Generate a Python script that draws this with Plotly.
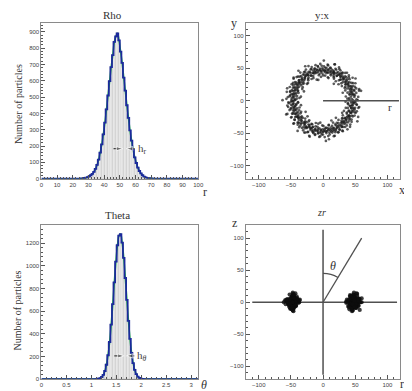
import numpy as np
import plotly.graph_objects as go

W, H = 412, 391

# ---------------- data ----------------
# Rho histogram: 100 bins of width 1 on [0, 100); non-zero bins start at 25
rho_nbins = 100
rho_bin_width = 1.0
rho_first_bin = 25
rho_counts = [1, 2, 4, 6, 9, 14, 21, 29, 42, 60, 84, 117, 160, 210, 272, 343, 425, 510,
              598, 684, 757, 838, 872, 891, 848, 779, 710, 620, 540, 450, 373, 296, 233,
              176, 131, 96, 68, 47, 32, 21, 13, 8, 5, 3, 2, 1]

# Theta histogram: 100 bins of width pi/100 on [0, pi); non-zero bins start at 35
theta_nbins = 100
theta_bin_width = np.pi / 100
theta_first_bin = 35
theta_counts = [2, 4, 9, 19, 38, 72, 127, 211, 328, 481, 662, 854, 1038, 1182, 1267,
                1281, 1205, 1070, 893, 700, 515, 356, 231, 142, 81, 44, 22, 11, 5, 2]

# y:x scatter, particles given as (rho, phi[deg])
ring_rho = [
    47, 41, 52, 45, 38, 55, 49, 44, 50, 36, 47, 53, 43, 58, 46, 40, 51, 48, 33, 54,
    45, 49, 42, 57, 47, 39, 52, 46, 61, 44, 48, 37, 53, 45, 50, 42, 56, 47, 35, 51,
    48, 43, 55, 40, 46, 52, 49, 31, 47, 54, 44, 50, 38, 57, 46, 42, 53, 48, 45, 59,
    41, 50, 47, 36, 52, 44, 49, 55, 43, 47, 39, 51, 46, 62, 48, 42, 54, 45, 37, 50,
    47, 53, 40, 48, 56, 44, 46, 51, 34, 49, 45, 52, 41, 58, 47, 43, 50, 38, 55, 46,
    49, 42, 53, 47, 39, 51, 45, 60, 44, 48, 36, 52, 46, 43, 55, 49, 41, 47, 57, 45,
    50, 38, 48, 54, 43, 46, 52, 33, 49, 45, 56, 42, 47, 51, 40, 53, 46, 58, 44, 48,
    41, 52, 47, 37, 55, 45, 49, 43, 63, 47, 50, 39, 53, 46, 42, 56, 48, 44, 35, 51,
    46, 54, 42, 49, 47, 59, 40, 52, 45, 48, 38, 55, 44, 50, 47, 32, 53, 46, 43, 57,
    48, 41, 51, 45, 54, 39, 47, 52, 44, 61, 46, 42, 50, 37, 55, 48, 43, 49, 56, 45,
    40, 53, 47, 46, 58, 43, 50, 36, 52, 45, 48, 54, 41, 47, 44, 51, 34, 49, 55, 46,
    52, 44, 48, 39, 56, 46, 42, 50, 47, 60, 43, 53, 45, 38, 49, 51, 46, 57, 41, 48,
    45, 50, 37, 54, 47, 43, 52, 48, 40, 55, 46, 49, 33, 51, 44, 58, 47, 42, 53, 45,
    49, 41, 56, 46, 44, 51, 38, 48, 53, 45, 62, 47, 42, 50, 36, 54, 46, 48, 43, 52,
    47, 55, 40, 49, 45, 51, 43, 57, 46, 39, 52, 48, 44, 35, 50, 47, 54, 41, 46, 59,
    44, 50, 47, 39, 53, 46, 42, 56, 48, 45, 51, 37, 49, 54, 43, 47, 60, 41, 52, 46,
    48, 35, 50, 45, 55, 43, 47, 51, 40, 58, 46, 49, 44, 53, 38, 47, 50, 42, 56, 45,
    51, 46, 41, 54, 48, 33, 52, 45, 49, 57, 43, 47, 39, 50, 46, 55, 42, 48, 62, 44,
    47, 52, 38, 49, 45, 56, 43, 50, 47, 36, 53, 46, 41, 51, 48, 59, 44, 49, 40, 54,
    46, 43, 57, 48, 51, 39, 47, 53, 45, 42, 55, 49, 34, 50, 46, 52, 44, 58, 41, 47,
    53, 45, 48, 40, 56, 47, 43, 51, 49, 61, 44, 46, 38, 52, 48, 45, 55, 42, 50, 47,
    39, 54, 46, 49, 44, 57, 41, 48, 52, 45, 35, 50, 47, 53, 43, 49, 59, 46, 42, 51,
    48, 44, 55, 37, 50, 46, 52, 42, 47, 58, 45, 49, 40, 54, 47, 43, 51, 36, 56, 46,
    50, 41, 47, 53, 45, 48, 60, 43, 49, 38, 52, 46, 55, 44, 47, 51, 33, 49, 45, 54,
    42, 48, 57, 46, 50, 39, 53, 47, 44, 51, 56, 45, 48, 37, 52, 46, 43, 59, 49, 47,
    45, 52, 40, 48, 55, 44, 47, 50, 36, 53, 46, 49, 42, 57, 47, 45, 51, 39, 54, 48,
    46, 58, 43, 50, 47, 41, 54, 45, 49, 52, 38, 48, 46, 55, 44, 51, 47, 61, 42, 49]
ring_phi = [
    0.3, 1.8, 2.6, 3.1, 4.9, 6.2, 7.0, 8.4, 9.7, 10.5, 11.9, 13.2, 13.8, 15.6, 16.9, 18.1, 19.4, 20.2, 22.0, 23.3,
    24.5, 25.1, 26.8, 28.3, 29.0, 30.6, 31.9, 32.7, 34.2, 35.5, 36.1, 37.8, 39.0, 40.4, 41.2, 42.9, 44.3, 45.0, 46.6, 47.5,
    48.8, 49.6, 51.3, 52.0, 53.7, 54.9, 56.2, 57.4, 58.1, 59.8, 61.0, 62.3, 63.5, 64.2, 65.9, 67.1, 68.6, 69.3, 70.7, 71.8,
    72.9, 74.4, 75.2, 76.5, 77.8, 79.1, 80.3, 81.7, 82.4, 84.0, 85.3, 86.1, 87.6, 88.9, 90.2, 91.5, 92.3, 93.9, 95.0, 95.8,
    97.1, 98.6, 99.4, 100.8, 102.0, 103.3, 104.7, 105.2, 106.9, 108.1, 109.5, 110.2, 111.8, 113.0, 114.4, 115.1, 116.7, 118.0, 118.9, 120.3,
    121.6, 122.4, 123.9, 125.2, 126.0, 127.5, 128.8, 129.6, 131.1, 132.3, 133.7, 134.5, 136.0, 137.2, 138.4, 139.9, 140.6, 142.1, 143.4, 144.2,
    145.7, 146.5, 148.0, 149.3, 150.1, 151.8, 152.6, 154.0, 155.3, 156.2, 157.7, 158.9, 160.1, 161.4, 162.2, 163.8, 165.0, 166.3, 167.1, 168.5,
    169.8, 170.6, 172.2, 173.4, 174.1, 175.7, 177.0, 178.3, 179.1, 180.6, 181.9, 183.2, 184.0, 185.5, 186.8, 187.6, 189.1, 190.4, 191.2, 192.7,
    193.9, 195.3, 196.1, 197.6, 198.8, 200.0, 201.5, 202.3, 203.9, 205.1, 206.4, 207.2, 208.7, 210.0, 211.3, 212.1, 213.8, 215.0, 216.2, 217.5,
    218.3, 219.8, 221.1, 222.4, 223.2, 224.7, 226.0, 227.3, 228.1, 229.6, 230.9, 232.2, 233.0, 234.5, 235.8, 237.1, 238.4, 239.2, 240.8, 242.0,
    243.3, 244.1, 245.6, 246.9, 248.2, 249.0, 250.5, 251.8, 253.1, 254.3, 255.0, 256.6, 257.9, 259.2, 260.0, 261.5, 262.8, 264.1, 265.3, 266.2,
    267.7, 268.9, 270.2, 271.0, 272.6, 273.9, 275.2, 276.0, 277.5, 278.8, 280.1, 281.3, 282.2, 283.7, 285.0, 286.3, 287.1, 288.6, 289.9, 291.2,
    292.0, 293.5, 294.8, 296.1, 297.3, 298.2, 299.7, 301.0, 302.3, 303.1, 304.6, 305.9, 307.2, 308.0, 309.5, 310.8, 312.1, 313.3, 314.2, 315.7,
    317.0, 318.3, 319.1, 320.6, 321.9, 323.2, 324.0, 325.5, 326.8, 328.1, 329.3, 330.2, 331.7, 333.0, 334.3, 335.1, 336.6, 337.9, 339.2, 340.0,
    341.5, 342.8, 344.1, 345.3, 346.2, 347.7, 349.0, 350.3, 351.1, 352.6, 353.9, 355.2, 356.0, 357.5, 358.8, 359.4, 0.9, 5.6, 12.4, 17.7,
    359.1, 357.4, 356.2, 354.5, 353.3, 351.6, 350.0, 348.7, 347.1, 345.8, 344.2, 342.6, 341.3, 339.9, 338.2, 336.8, 335.5, 333.9, 332.4, 331.0,
    329.6, 328.1, 326.5, 325.2, 323.8, 322.1, 320.7, 319.4, 317.8, 316.3, 314.9, 313.5, 311.8, 310.4, 309.1, 307.6, 306.0, 304.7, 303.2, 301.8,
    300.3, 298.9, 297.4, 295.8, 294.5, 293.1, 291.5, 290.2, 288.7, 287.1, 285.8, 284.3, 282.9, 281.4, 279.8, 278.5, 277.0, 275.6, 274.1, 272.7,
    271.2, 269.8, 268.3, 266.9, 265.4, 263.9, 262.5, 261.0, 259.6, 258.1, 256.7, 255.2, 253.8, 252.3, 250.9, 249.4, 248.0, 246.5, 245.1, 243.6,
    242.2, 240.7, 239.3, 237.8, 236.4, 234.9, 233.5, 232.0, 230.6, 229.1, 227.7, 226.2, 224.8, 223.3, 221.9, 220.4, 219.0, 217.5, 216.1, 214.6,
    213.2, 211.7, 210.3, 208.8, 207.4, 205.9, 204.5, 203.0, 201.6, 200.1, 198.7, 197.2, 195.8, 194.3, 192.9, 191.4, 190.0, 188.5, 187.1, 185.6,
    184.2, 182.7, 181.3, 179.8, 178.4, 176.9, 175.5, 174.0, 172.6, 171.1, 169.7, 168.2, 166.8, 165.3, 163.9, 162.4, 161.0, 159.5, 158.1, 156.6,
    155.2, 153.7, 152.3, 150.8, 149.4, 147.9, 146.5, 145.0, 143.6, 142.1, 140.7, 139.2, 137.8, 136.3, 134.9, 133.4, 132.0, 130.5, 129.1, 127.6,
    126.2, 124.7, 123.3, 121.8, 120.4, 118.9, 117.5, 116.0, 114.6, 113.1, 111.7, 110.2, 108.8, 107.3, 105.9, 104.4, 103.0, 101.5, 100.1, 98.6,
    97.2, 95.7, 94.3, 92.8, 91.4, 89.9, 88.5, 87.0, 85.6, 84.1, 82.7, 81.2, 79.8, 78.3, 76.9, 75.4, 74.0, 72.5, 71.1, 69.6,
    68.2, 66.7, 65.3, 63.8, 62.4, 60.9, 59.5, 58.0, 56.6, 55.1, 53.7, 52.2, 50.8, 49.3, 47.9, 46.4, 45.0, 43.5, 42.1, 40.6,
    39.2, 37.7, 36.3, 34.8, 33.4, 31.9, 30.5, 29.0, 27.6, 26.1, 24.7, 23.2, 21.8, 20.3, 18.9, 17.4, 16.0, 14.5, 13.1, 11.6]

# z:r scatter (r signed)
blob_left_r = [-47, -52, -44, -49, -41, -55, -46, -50, -43, -48, -53, -45, -39, -51, -47, -57, -44, -49, -42, -46,
               -54, -48, -45, -50, -37, -47, -52, -43, -49, -46, -56, -44, -48, -51, -40, -47, -53, -45, -49, -42,
               -47, -50, -44, -58, -46, -48, -52, -41, -47, -45, -54, -49, -43, -47, -51, -38, -48, -46, -53, -44,
               -50, -47, -42, -55, -45, -49, -48, -36, -51, -46, -47, -43, -52, -49, -45, -59, -47, -44, -50, -48,
               -45, -51, -48, -42, -54, -47, -50, -44, -56, -46, -49, -39, -53, -47, -43, -51, -48, -61, -45, -50,
               -46, -52, -41, -48, -44, -55, -47, -49, -37, -52, -46, -50, -43, -57, -48, -45, -51, -40, -49, -47]
blob_left_z = [3, -4, 6, -1, 0, 5, -8, 1, -3, 9, -5, 4, 1, -10, 0, 3, -4, 8, -6, 1,
               -1, 5, -9, 3, 0, -3, 12, -5, 4, -1, 1, -6, 6, -4, 3, -13, 0, 8, -3, 5,
               -8, 4, -1, -3, 10, -5, 1, 6, -4, 0, -3, 5, 14, -6, 3, -1, 8, -9, 4, 0,
               -4, 1, -5, 3, 6, -10, 0, 4, -3, 9, -1, 5, -8, 1, -4, 3, 15, -6, 4, -1,
               7, -2, -9, 4, 1, -12, 6, -5, 2, 10, -7, 3, -1, 13, -4, 5, -11, 0, 8, -6,
               -14, 2, 9, -3, 6, -1, 11, -8, 3, -5, 7, -10, 1, 4, -7, 12, -2, 6, -9, 0]
blob_right_r = [48, 43, 51, 46, 53, 40, 47, 50, 44, 56, 45, 49, 42, 52, 47, 38, 48, 54, 45, 50,
                43, 47, 57, 46, 49, 41, 52, 48, 44, 51, 47, 36, 53, 46, 49, 45, 58, 43, 48, 50,
                47, 42, 55, 46, 49, 44, 51, 39, 47, 53, 45, 48, 50, 43, 60, 47, 46, 52, 44, 49,
                41, 48, 54, 46, 47, 51, 45, 37, 50, 48, 43, 52, 47, 45, 55, 49, 46, 42, 48, 51,
                46, 52, 44, 49, 55, 41, 48, 51, 45, 58, 47, 43, 50, 39, 53, 46, 49, 56, 44, 48,
                51, 42, 47, 54, 45, 60, 48, 43, 50, 46, 36, 52, 47, 45, 57, 49, 41, 48, 53, 46]
blob_right_z = [-1, 4, -5, 3, 0, -8, 6, -3, 1, 5, -4, 9, -1, -6, 3, 0, 10, -4, 4, -9,
                1, -3, 5, -12, 0, 3, -5, 8, -1, 4, -6, 1, 13, -3, 6, -4, 0, 5, -8, 3,
                -1, 9, -5, 1, 4, -10, 0, 3, -3, 6, -14, 1, -4, 5, 0, 8, -6, 3, -1, 4,
                -5, 12, 0, -3, 6, -8, 1, 4, -4, -1, 5, -9, 3, 0, -6, 8, 1, -3, 15, -5,
                -7, 2, 10, -4, 6, -11, 1, -8, 4, 0, 12, -3, 7, -6, 2, -13, 5, 1, -9, 8,
                -2, 11, -5, 3, -10, 6, 0, 9, -7, 4, -1, 14, -4, 7, -12, 2, 5, -6, 10, -3]

# guide lines (data coordinates)
r_guide_x = [0, 118]
r_guide_y = [0, 0]
zr_haxis_x = [-110, 115]
zr_vaxis_z = [-113, 113]
zr_theta_line_r = [0, 60]
zr_theta_line_z = [0, 100]

# width-marker arrows: (tail, tip, height)
rho_arrows = [(46.0, 52.0, 184), (59.5, 54.0, 184)]
theta_arrows = [(1.46, 1.66, 205), (1.86, 1.70, 205)]

# ---------------- build ----------------
def full_counts(nbins, first, vals):
    c = np.zeros(nbins)
    c[first:first + len(vals)] = vals
    return c

rho_c = full_counts(rho_nbins, rho_first_bin, rho_counts)
rho_edges = np.arange(rho_nbins + 1) * rho_bin_width
rho_cent = rho_edges[:-1] + rho_bin_width / 2

th_c = full_counts(theta_nbins, theta_first_bin, theta_counts)
th_edges = np.arange(theta_nbins + 1) * theta_bin_width
th_cent = th_edges[:-1] + theta_bin_width / 2

ring_x = np.array(ring_rho) * np.cos(np.deg2rad(ring_phi))
ring_y = np.array(ring_rho) * np.sin(np.deg2rad(ring_phi))

BLUE = '#1c2a9c'
GREEN = '#22b04a'
BARLINE = '#bcbcbc'
FRAME = '#8a8a8a'
TXT = '#333333'
GUIDE = '#505050'
SERIF = 'Liberation Serif'

fig = go.Figure()

def hist(cent, edges, counts, w, xa, ya):
    fig.add_trace(go.Bar(x=cent, y=counts, width=w, marker=dict(color='#ffffff', line=dict(color=BARLINE, width=0.6)),
                         xaxis=xa, yaxis=ya, hoverinfo='skip'))
    fig.add_trace(go.Scatter(x=cent, y=counts, mode='lines', line=dict(color=GREEN, width=1.6, shape='spline'),
                             xaxis=xa, yaxis=ya, hoverinfo='skip'))
    fig.add_trace(go.Scatter(x=np.append(edges[:-1], edges[-1]), y=np.append(counts, counts[-1]), mode='lines',
                             line=dict(color=BLUE, width=1.8, shape='hv'), xaxis=xa, yaxis=ya, hoverinfo='skip'))

def arrows(lst, xa, ya):
    for tail, tip, yv in lst:
        fig.add_trace(go.Scatter(x=[tail, tip], y=[yv, yv], mode='lines+markers',
                                 line=dict(color='#444444', width=1.3),
                                 marker=dict(symbol='arrow', angleref='previous', size=[0, 7], color='#444444'),
                                 xaxis=xa, yaxis=ya, hoverinfo='skip'))

hist(rho_cent, rho_edges, rho_c, rho_bin_width, 'x', 'y')
hist(th_cent, th_edges, th_c, theta_bin_width, 'x3', 'y3')
arrows(rho_arrows, 'x', 'y')
arrows(theta_arrows, 'x3', 'y3')

# y:x
fig.add_trace(go.Scatter(x=ring_x, y=ring_y, mode='markers', marker=dict(color='#151515', size=2.7, opacity=0.7),
                         xaxis='x2', yaxis='y2', hoverinfo='skip'))
fig.add_trace(go.Scatter(x=r_guide_x, y=r_guide_y, mode='lines', line=dict(color=GUIDE, width=1.6),
                         xaxis='x2', yaxis='y2', hoverinfo='skip'))

# z:r
fig.add_trace(go.Scatter(x=zr_haxis_x, y=[0, 0], mode='lines', line=dict(color=GUIDE, width=1.5),
                         xaxis='x4', yaxis='y4', hoverinfo='skip'))
fig.add_trace(go.Scatter(x=[0, 0], y=zr_vaxis_z, mode='lines', line=dict(color=GUIDE, width=1.5),
                         xaxis='x4', yaxis='y4', hoverinfo='skip'))
fig.add_trace(go.Scatter(x=zr_theta_line_r, y=zr_theta_line_z, mode='lines', line=dict(color=GUIDE, width=1.3),
                         xaxis='x4', yaxis='y4', hoverinfo='skip'))
fig.add_trace(go.Scatter(x=blob_left_r + blob_right_r, y=blob_left_z + blob_right_z, mode='markers',
                         marker=dict(color='#0d0d0d', size=4.2, opacity=0.8),
                         xaxis='x4', yaxis='y4', hoverinfo='skip'))
fig.add_shape(type='path', path='M 0,45 Q 12.6,45 23.2,38.6', xref='x4', yref='y4',
              line=dict(color=GUIDE, width=1.2))

def px(x):
    return x / W

def py(y):
    return 1 - y / H

MINOR = dict(ticklen=2, ticks='inside', tickcolor='#555555')

def ax_common(minor_dtick, **kw):
    d = dict(showgrid=False, zeroline=False, showline=True, mirror=True, linecolor=FRAME, linewidth=1,
             ticks='inside', ticklen=4, tickcolor='#555555', tickwidth=1,
             tickfont=dict(family='Liberation Sans', size=6, color='#444444'),
             minor=dict(dtick=minor_dtick, **MINOR))
    d.update(kw)
    return d

xdomL = [px(32), px(192)]
xdomR = [px(240.5), px(398)]
ydomT = [py(172), py(15)]
ydomB = [py(374), py(219)]

fig.update_layout(
    width=W, height=H, margin=dict(l=0, r=0, t=0, b=0), paper_bgcolor='white', plot_bgcolor='white',
    showlegend=False, bargap=0,
    xaxis=ax_common(2, domain=xdomL, anchor='y', range=[0, 100], dtick=10, tick0=0),
    yaxis=ax_common(20, domain=ydomT, anchor='x', range=[0, 955], dtick=100, tick0=0),
    xaxis3=ax_common(0.1, domain=xdomL, anchor='y3', range=[0, np.pi], dtick=0.5, tick0=0),
    yaxis3=ax_common(40, domain=ydomB, anchor='x3', range=[0, 1358], dtick=200, tick0=0),
    xaxis2=ax_common(10, domain=xdomR, anchor='y2', range=[-120, 120], dtick=50, tick0=0),
    yaxis2=ax_common(10, domain=ydomT, anchor='x2', range=[-120, 120], dtick=50, tick0=0),
    xaxis4=ax_common(10, domain=xdomR, anchor='y4', range=[-120, 120], dtick=50, tick0=0),
    yaxis4=ax_common(10, domain=ydomB, anchor='x4', range=[-120, 120], dtick=50, tick0=0),
)

ann = []

def txt(x, y, s, size=11, italic=False, angle=0, color=TXT):
    if italic:
        s = '<i>' + s + '</i>'
    ann.append(dict(x=px(x), y=py(y), xref='paper', yref='paper', text=s, showarrow=False,
                    font=dict(family=SERIF, size=size, color=color), textangle=angle,
                    xanchor='center', yanchor='middle'))

txt(105, 7, 'Rho', 11)
txt(110, 209, 'Theta', 11)
txt(319, 7, 'y:x', 11)
txt(318, 206, 'zr', 10, italic=True)
txt(8, 97, 'Number of particles', 10, angle=-90)
txt(8, 305, 'Number of particles', 10, angle=-90)
txt(199, 185, 'r', 12)
txt(198, 380, 'θ', 12, italic=True)
txt(228, 15, 'y', 12)
txt(400, 183, 'x', 12)
txt(229, 217, 'z', 12)
txt(400, 379, 'r', 12)

ann.append(dict(x=60.5, y=184, xref='x', yref='y', text='h<sub>r</sub>', showarrow=False, xanchor='left',
                font=dict(family=SERIF, size=11, color='#444444')))
ann.append(dict(x=1.88, y=205, xref='x3', yref='y3', text='h<sub><i>θ</i></sub>', showarrow=False, xanchor='left',
                font=dict(family=SERIF, size=11, color='#444444')))
ann.append(dict(x=104, y=-10, xref='x2', yref='y2', text='r', showarrow=False,
                font=dict(family=SERIF, size=11, color='#333333')))
ann.append(dict(x=15, y=57, xref='x4', yref='y4', text='<i>θ</i>', showarrow=False,
                font=dict(family=SERIF, size=12, color='#333333')))

fig.update_layout(annotations=ann)
fig.write_html('out.html')
